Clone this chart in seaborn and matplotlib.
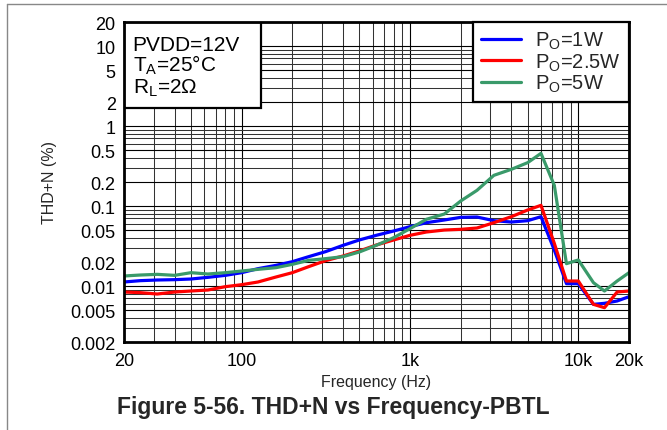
import numpy as np
import pandas as pd
import matplotlib

matplotlib.use('Agg')
import matplotlib.pyplot as plt
import matplotlib.ticker as mticker
from matplotlib.patches import Rectangle
from matplotlib.lines import Line2D
import seaborn as sns

# frequency points (Hz)
freq = [20, 25, 31.5, 40, 50, 63, 80, 100, 125, 160, 200, 250, 315, 400, 500, 630,
        800, 1000, 1250, 1600, 2000, 2500, 3150, 4000, 5000, 6000, 7200, 8500,
        10000, 12300, 14300, 17000, 20000]

# THD+N (%) for each output power
thd_1w = [0.01125, 0.01169, 0.01191, 0.01203, 0.01226, 0.01286, 0.01362, 0.01471,
          0.01651, 0.01816, 0.02019, 0.02332, 0.02693, 0.0323, 0.0377, 0.0431,
          0.0488, 0.0553, 0.0620, 0.0670, 0.0723, 0.0730, 0.0657, 0.0632, 0.0657,
          0.0737, 0.0282, 0.01072, 0.01072, 0.00591, 0.00609, 0.00651, 0.00737]
thd_2_5w = [0.00843, 0.00828, 0.00796, 0.00843, 0.00868, 0.00893, 0.00983, 0.01041,
            0.01125, 0.01299, 0.01471, 0.01749, 0.02078, 0.02377, 0.02745, 0.0326,
            0.0377, 0.0431, 0.0474, 0.0502, 0.0512, 0.0532, 0.0620, 0.0737, 0.0893,
            0.1022, 0.0342, 0.01157, 0.01157, 0.00591, 0.00537, 0.00843, 0.00868]
thd_5w = [0.01337, 0.01375, 0.01402, 0.01362, 0.01471, 0.01416, 0.01471, 0.01543,
          0.01619, 0.01699, 0.01869, 0.02098, 0.02202, 0.02332, 0.02667, 0.0323,
          0.0403, 0.0522, 0.0683, 0.0796, 0.1157, 0.1573, 0.2423, 0.288, 0.349,
          0.456, 0.1816, 0.01907, 0.0212, 0.01103, 0.00868, 0.01157, 0.01471]

series_names = ['1W', '2.5W', '5W']
series_colors = ['#0000ff', '#ff0000', '#3a9a6a']

y_ticks = [0.002, 0.005, 0.01, 0.02, 0.05, 0.1, 0.2, 0.5, 1, 2, 5, 10, 20]
y_labels = ['0.002', '0.005', '0.01', '0.02', '0.05', '0.1', '0.2', '0.5', '1', '2', '5', '10', '20']
x_ticks = [20, 100, 1000, 10000, 20000]
x_labels = ['20', '100', '1k', '10k', '20k']

df = pd.DataFrame({
    'freq': freq * 3,
    'thd': thd_1w + thd_2_5w + thd_5w,
    'po': [n for n in series_names for _ in freq],
})

sns.set_theme(style='white')
plt.rcParams['font.family'] = ['Liberation Sans', 'DejaVu Sans']
plt.rcParams['mathtext.fontset'] = 'custom'
plt.rcParams['mathtext.rm'] = 'Liberation Sans'

fig = plt.figure(figsize=(6.67, 4.31), dpi=100)
ax = fig.add_axes([124 / 667, 1 - 343 / 431, 505 / 667, 320 / 431])

sns.lineplot(data=df, x='freq', y='thd', hue='po', palette=series_colors,
             hue_order=series_names, linewidth=2.3, ax=ax, legend=False,
             estimator=None, sort=False, zorder=3)

ax.set_xscale('log')
ax.set_yscale('log')
ax.set_xlim(20, 20000)
ax.set_ylim(0.002, 20)

ax.xaxis.set_major_locator(mticker.FixedLocator(x_ticks))
ax.xaxis.set_major_formatter(mticker.FixedFormatter(x_labels))
ax.xaxis.set_minor_locator(mticker.LogLocator(base=10, subs=np.arange(1, 10), numticks=20))
ax.xaxis.set_minor_formatter(mticker.NullFormatter())
ax.yaxis.set_major_locator(mticker.FixedLocator(y_ticks))
ax.yaxis.set_major_formatter(mticker.FixedFormatter(y_labels))
ax.yaxis.set_minor_locator(mticker.LogLocator(base=10, subs=np.arange(1, 10), numticks=20))
ax.yaxis.set_minor_formatter(mticker.NullFormatter())

ax.tick_params(axis='both', which='both', length=0, labelsize=13, colors='black')
ax.tick_params(axis='y', pad=6)
ax.tick_params(axis='x', pad=7)

ax.grid(True, which='major', color='black', linewidth=0.8, zorder=1)
ax.grid(True, which='minor', color='#333333', linewidth=0.75, zorder=1)
ax.set_axisbelow(True)

for sp in ax.spines.values():
    sp.set_color('black')
    sp.set_linewidth(2)
    sp.set_zorder(5)

ax.set_xlabel('Frequency (Hz)', fontsize=11.5, labelpad=4)
ax.set_ylabel('THD+N (%)', fontsize=11.5, labelpad=10)

# conditions box (upper left)
ax.add_patch(Rectangle((0, 1 - 86 / 320), 137 / 505, 86 / 320, transform=ax.transAxes,
                       facecolor='white', edgecolor='black', linewidth=1.6, zorder=4))
cond_lines = ['PVDD=12V', r'T$_\mathrm{A}$=25°C', r'R$_\mathrm{L}$=2Ω']
for txt, yb in zip(cond_lines, [0.913, 0.848, 0.780]):
    ax.text(0.017, yb, txt, transform=ax.transAxes, fontsize=15, va='baseline',
            ha='left', color='black', zorder=6)

# legend (upper right)
handles = [Line2D([0], [0], color=c, linewidth=2.3) for c in series_colors]
labels = [r'P$_\mathrm{O}$=' + n for n in series_names]
leg = ax.legend(handles, labels, loc='upper right', fontsize=14.5, frameon=True,
                fancybox=False, edgecolor='black', framealpha=1, borderaxespad=0,
                borderpad=0.4, handlelength=2.0, handletextpad=0.7, labelspacing=0.0)
leg.get_frame().set_linewidth(1.6)
leg.set_zorder(6)

fig.text(0.5, 1 - 408 / 431, 'Figure 5-56. THD+N vs Frequency-PBTL', fontsize=16.5,
         fontweight='bold', ha='center', va='center')

# outer page border (left and top)
fig.add_artist(Line2D([7 / 667, 7 / 667], [0, 1 - 5 / 431], color='#888888', linewidth=1))
fig.add_artist(Line2D([7 / 667, 1], [1 - 5 / 431, 1 - 5 / 431], color='#888888', linewidth=1))

fig.savefig('out.png', dpi=100)
plt.close(fig)
